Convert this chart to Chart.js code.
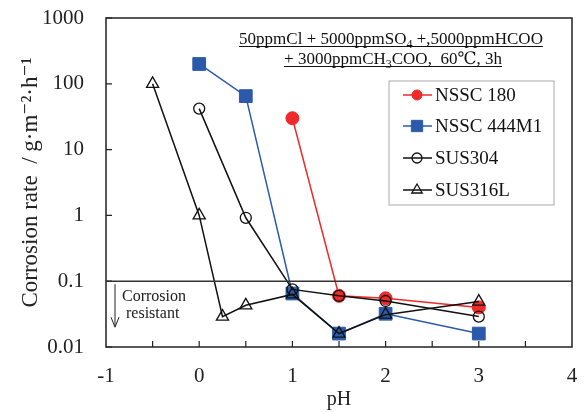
<!DOCTYPE html>
<html>
<head>
<meta charset="utf-8">
<script src="https://cdn.jsdelivr.net/npm/chart.js@4/dist/chart.umd.min.js"></script>
<style>
  html, body { margin: 0; padding: 0; background: #fff; }
  #wrap { width: 588px; height: 412px; }
</style>
</head>
<body>
<div id="wrap"><canvas id="rateChart"></canvas></div>
<script>
// values
const ph180 = [1, 1.5, 2, 3];
const rate180 = [30, 0.06, 0.055, 0.04];
const ph444 = [0, 0.5, 1, 1.5, 2, 3];
const rate444 = [200, 65, 0.065, 0.016, 0.032, 0.016];
const ph304 = [0, 0.5, 1, 1.5, 2, 3];
const rate304 = [42, 0.92, 0.075, 0.06, 0.05, 0.029];
const ph316 = [-0.5, 0, 0.25, 0.5, 1, 1.5, 2, 3];
const rate316 = [100, 1, 0.029, 0.043, 0.063, 0.016, 0.031, 0.049];

const seriesNames = ['NSSC 180', 'NSSC 444M1', 'SUS304', 'SUS316L'];
const xTicks = [-1, 0, 1, 2, 3, 4];
const yTicks = [0.01, 0.1, 1, 10, 100, 1000];
const limitRate = 0.1;

const titleLines = [
  [['50ppmCl + 5000ppmSO'], ['4', 'sub'], [' +,5000ppmHCOO']],
  [['+ 3000ppmCH'], ['3', 'sub'], ['COO,  60\u2103, 3h']]
];

const SERIF = '"Liberation Serif", "DejaVu Serif", serif';
const RED = '#ee2a2a';
const BLUE = '#2c5aab';

function pts(xs, ys) {
  return xs.map((x, i) => ({ x: x, y: ys[i] }));
}

const datasets = [
  { label: seriesNames[0], data: pts(ph180, rate180), borderColor: RED, backgroundColor: RED,
    pointStyle: 'circle', pointRadius: 6.5, pointBorderWidth: 1, order: 4 },
  { label: seriesNames[1], data: pts(ph444, rate444), borderColor: BLUE, backgroundColor: BLUE,
    pointStyle: 'rect', pointRadius: 9, pointBorderWidth: 1, order: 3 },
  { label: seriesNames[2], data: pts(ph304, rate304), borderColor: '#111', backgroundColor: 'rgba(255,255,255,0)',
    pointStyle: 'circle', pointRadius: 5.5, pointBorderWidth: 1.3, order: 2 },
  { label: seriesNames[3], data: pts(ph316, rate316), borderColor: '#111', backgroundColor: 'rgba(255,255,255,0)',
    pointStyle: 'triangle', pointRadius: 7, pointBorderWidth: 1.3, order: 1 }
];
datasets.forEach(d => { d.showLine = true; d.borderWidth = 1.5; d.tension = 0; });

// frame, inner ticks, 0.1 limit line, note, title block, legend
const extras = {
  id: 'extras',
  afterDatasetsDraw(chart) {
    const ctx = chart.ctx;
    const a = chart.chartArea;
    const xs = chart.scales.x, ys = chart.scales.y;
    ctx.save();
    ctx.strokeStyle = '#222';
    ctx.lineWidth = 1.5;
    ctx.strokeRect(a.left, a.top, a.right - a.left, a.bottom - a.top);

    ctx.lineWidth = 1.2;
    ctx.beginPath();
    for (let v = -0.5; v < 4; v += 0.5) {
      const px = xs.getPixelForValue(v);
      ctx.moveTo(px, a.bottom); ctx.lineTo(px, a.bottom - 6);
    }
    yTicks.forEach(v => {
      const py = ys.getPixelForValue(v);
      ctx.moveTo(a.left, py); ctx.lineTo(a.left + 6, py);
    });
    ctx.stroke();

    // limit line
    const ly = ys.getPixelForValue(limitRate);
    ctx.strokeStyle = '#333';
    ctx.lineWidth = 1.4;
    ctx.beginPath();
    ctx.moveTo(a.left, ly); ctx.lineTo(a.right, ly);
    ctx.stroke();

    // arrow + note
    ctx.strokeStyle = '#222';
    ctx.lineWidth = 1;
    ctx.beginPath();
    ctx.moveTo(a.left + 9, ly + 3); ctx.lineTo(a.left + 9, ly + 45);
    ctx.moveTo(a.left + 5, ly + 36); ctx.lineTo(a.left + 9, ly + 46); ctx.lineTo(a.left + 13, ly + 36);
    ctx.stroke();
    ctx.fillStyle = '#222';
    ctx.font = '16px ' + SERIF;
    ctx.textAlign = 'left';
    ctx.textBaseline = 'alphabetic';
    ctx.fillText('Corrosion', a.left + 16, ly + 20);
    ctx.fillText('resistant', a.left + 20, ly + 37);

    // title block with subscripts and underline
    ctx.fillStyle = '#111';
    ctx.strokeStyle = '#111';
    const baseSize = 17, subSize = 12;
    const centers = [391, 393];
    const baselines = [44, 64];
    titleLines.forEach((line, li) => {
      let total = 0;
      line.forEach(seg => {
        ctx.font = (seg[1] ? subSize : baseSize) + 'px ' + SERIF;
        total += ctx.measureText(seg[0]).width;
      });
      let x = centers[li] - total / 2;
      const x0 = x;
      line.forEach(seg => {
        ctx.font = (seg[1] ? subSize : baseSize) + 'px ' + SERIF;
        ctx.fillText(seg[0], x, baselines[li] + (seg[1] ? 4 : 0));
        x += ctx.measureText(seg[0]).width;
      });
      ctx.lineWidth = 1;
      ctx.beginPath();
      ctx.moveTo(x0, baselines[li] + 2.5); ctx.lineTo(x, baselines[li] + 2.5);
      ctx.stroke();
    });

    // legend
    const box = { l: 389, t: 81, r: 554, b: 205 };
    ctx.fillStyle = '#fff';
    ctx.fillRect(box.l, box.t, box.r - box.l, box.b - box.t);
    ctx.strokeStyle = '#aaa';
    ctx.lineWidth = 1;
    ctx.strokeRect(box.l, box.t, box.r - box.l, box.b - box.t);
    const rows = [95, 126, 158, 190];
    chart.data.datasets.forEach((ds, i) => {
      const y = rows[i];
      ctx.strokeStyle = ds.borderColor;
      ctx.lineWidth = 1.5;
      ctx.beginPath();
      ctx.moveTo(403, y); ctx.lineTo(432, y);
      ctx.stroke();
      ctx.fillStyle = ds.backgroundColor;
      ctx.lineWidth = ds.pointBorderWidth;
      Chart.helpers.drawPoint(ctx, {
        pointStyle: ds.pointStyle,
        radius: ds.pointStyle === 'rect' ? 8 : (ds.pointStyle === 'triangle' ? 6 : 5),
        rotation: 0,
        borderWidth: ds.pointBorderWidth
      }, 417, y);
      ctx.fillStyle = '#111';
      ctx.font = '19px ' + SERIF;
      ctx.textBaseline = 'middle';
      ctx.fillText(ds.label, 435, y + 1);
    });
    ctx.restore();
  }
};

new Chart(document.getElementById('rateChart'), {
  type: 'scatter',
  data: { datasets: datasets },
  options: {
    responsive: true,
    maintainAspectRatio: false,
    animation: false,
    layout: { padding: { top: 18, right: 16, left: 17, bottom: 0 } },
    plugins: {
      legend: { display: false },
      tooltip: { enabled: false }
    },
    scales: {
      x: {
        type: 'linear',
        min: -1, max: 4,
        afterBuildTicks: s => { s.ticks = xTicks.map(v => ({ value: v })); },
        afterFit: s => { s.height = 65; s.paddingLeft = 0; s.paddingRight = 0; },
        grid: { display: false, drawTicks: false },
        border: { display: false },
        ticks: { padding: 17, color: '#222', font: { family: SERIF, size: 21 }, callback: v => String(v) },
        title: { display: true, text: 'pH', color: '#222', padding: { top: 0, bottom: 0 },
                 font: { family: SERIF, size: 20 } }
      },
      y: {
        type: 'logarithmic',
        min: 0.01, max: 1000,
        afterBuildTicks: s => { s.ticks = yTicks.map(v => ({ value: v })); },
        afterFit: s => { s.width = 89; s.paddingTop = 0; s.paddingBottom = 0; },
        grid: { display: false, drawTicks: false },
        border: { display: false },
        ticks: { padding: 22, color: '#222', font: { family: SERIF, size: 21 },
                 callback: v => String(v) },
        title: { display: true, text: 'Corrosion rate  / g\u00b7m\u207b\u00b2\u00b7h\u207b\u00b9', color: '#222',
                 padding: { top: 0, bottom: 0 }, font: { family: SERIF, size: 23 } }
      }
    }
  },
  plugins: [extras]
});
</script>
</body>
</html>
